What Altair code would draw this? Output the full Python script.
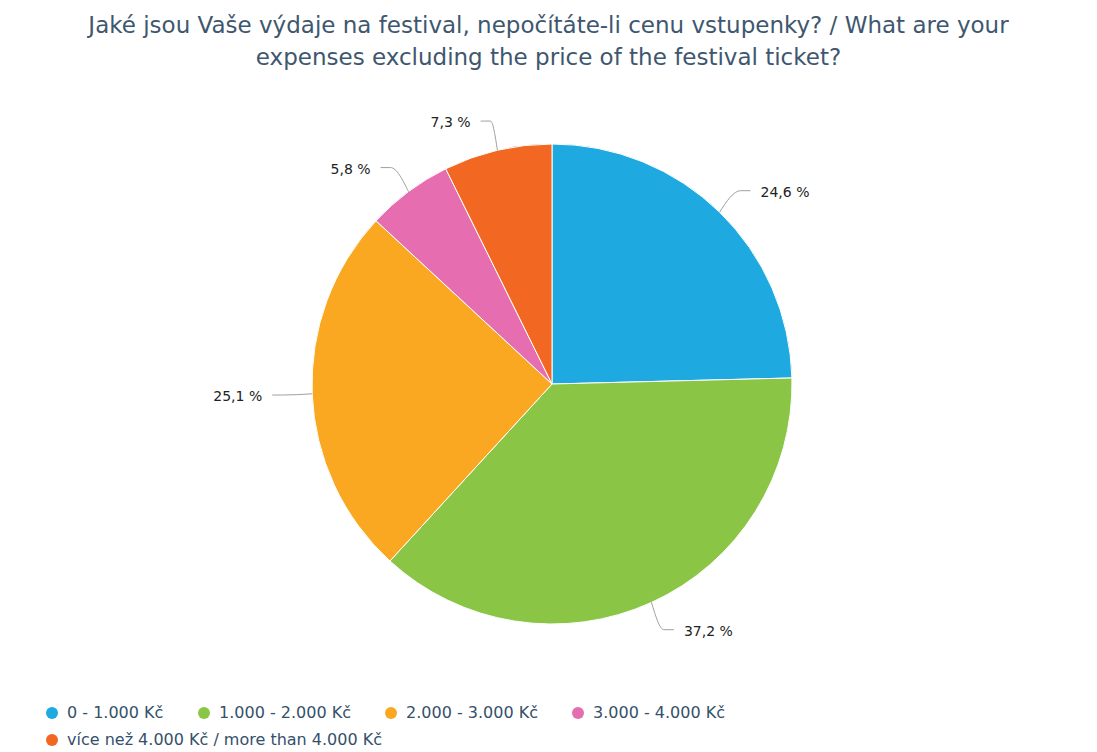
import altair as alt
import pandas as pd

categories = ["0 - 1.000 Kč", "1.000 - 2.000 Kč", "2.000 - 3.000 Kč",
              "3.000 - 4.000 Kč", "více než 4.000 Kč / more than 4.000 Kč"]
values = [24.6, 37.2, 25.1, 5.8, 7.3]
colors = ["#1fa9e1", "#8bc546", "#faa822", "#e56db0", "#f26722"]
title_lines = ["Jaké jsou Vaše výdaje na festival, nepočítáte-li cenu vstupenky? / What are your",
               "expenses excluding the price of the festival ticket?"]

df = pd.DataFrame({
    "category": categories,
    "value": values,
    "idx": list(range(len(categories))),
    "label": [f"{v:.1f}".replace(".", ",") + " %" for v in values],
})

FONT = "DejaVu Sans"
CX, CY, R, RL = 544, 305, 240, 270
LEG_COLOR = "#34506b"

base = alt.Chart(df)


def legend(values_shown, y):
    return alt.Legend(title=None, orient="none", legendX=36, legendY=y, values=values_shown,
                      columns=4, direction="horizontal",
                      symbolType="circle", symbolSize=144, symbolStrokeWidth=0,
                      labelFont=FONT, labelFontSize=16, labelColor=LEG_COLOR,
                      labelOffset=7, columnPadding=32, labelLimit=0)


def arc_layer(leg):
    return base.mark_arc(outerRadius=R, stroke="white", strokeWidth=1).encode(
        theta=alt.Theta("value:Q", stack=True),
        order=alt.Order("idx:Q"),
        fill=alt.Fill("category:N", sort=categories,
                      scale=alt.Scale(domain=categories, range=colors),
                      legend=leg),
        x=alt.value(CX), y=alt.value(CY),
    )


arcs1 = arc_layer(legend(categories[:4], 626))
arcs2 = arc_layer(legend(categories[4:], 653))

geo = base.transform_window(
    cum="sum(value)", sort=[alt.SortField("idx")]
).transform_joinaggregate(
    total="sum(value)"
).transform_calculate(
    a="2*PI*(datum.cum - datum.value/2)/datum.total",
).transform_calculate(
    side="sin(datum.a) >= 0 ? 1 : -1",
    lx=f"{CX} + {RL}*sin(datum.a)",
    ly=f"{CY} - {RL}*cos(datum.a)",
)

lines = geo.transform_calculate(
    steps="[0, 1, 2]"
).transform_flatten(["steps"]).transform_calculate(
    px=f"datum.steps == 0 ? {CX} + {R}*sin(datum.a) : (datum.steps == 1 ? datum.lx : datum.lx + 10*datum.side)",
    py=f"datum.steps == 0 ? {CY} - {R}*cos(datum.a) : datum.ly",
).mark_line(color="#a0a0a0", strokeWidth=1, interpolate="monotone").encode(
    x=alt.X("px:Q", scale=None, axis=None),
    y=alt.Y("py:Q", scale=None, axis=None),
    detail="category:N",
    order="steps:Q",
)

text_right = geo.transform_filter("datum.side > 0").transform_calculate(
    tx="datum.lx + 20"
).mark_text(align="left", baseline="middle", dy=2, font=FONT, fontSize=14, color="#222222").encode(
    x=alt.X("tx:Q", scale=None, axis=None),
    y=alt.Y("ly:Q", scale=None, axis=None),
    text="label:N",
)
text_left = geo.transform_filter("datum.side < 0").transform_calculate(
    tx="datum.lx - 20"
).mark_text(align="right", baseline="middle", dy=2, font=FONT, fontSize=14, color="#222222").encode(
    x=alt.X("tx:Q", scale=None, axis=None),
    y=alt.Y("ly:Q", scale=None, axis=None),
    text="label:N",
)

chart = alt.layer(arcs1, arcs2, lines, text_right, text_left).resolve_scale(
    fill="independent"
).resolve_legend(
    fill="independent"
).properties(
    width=1081, height=664,
    padding={"top": 7, "left": 0, "right": 0, "bottom": 0},
    background="white",
    title=alt.TitleParams(text=title_lines, anchor="middle", font=FONT, fontSize=23,
                          fontWeight="normal", color="#3e576f", lineHeight=32, offset=9),
).configure_view(stroke=None)

chart.save("out.html", embed_options={"renderer": "svg", "actions": False})
